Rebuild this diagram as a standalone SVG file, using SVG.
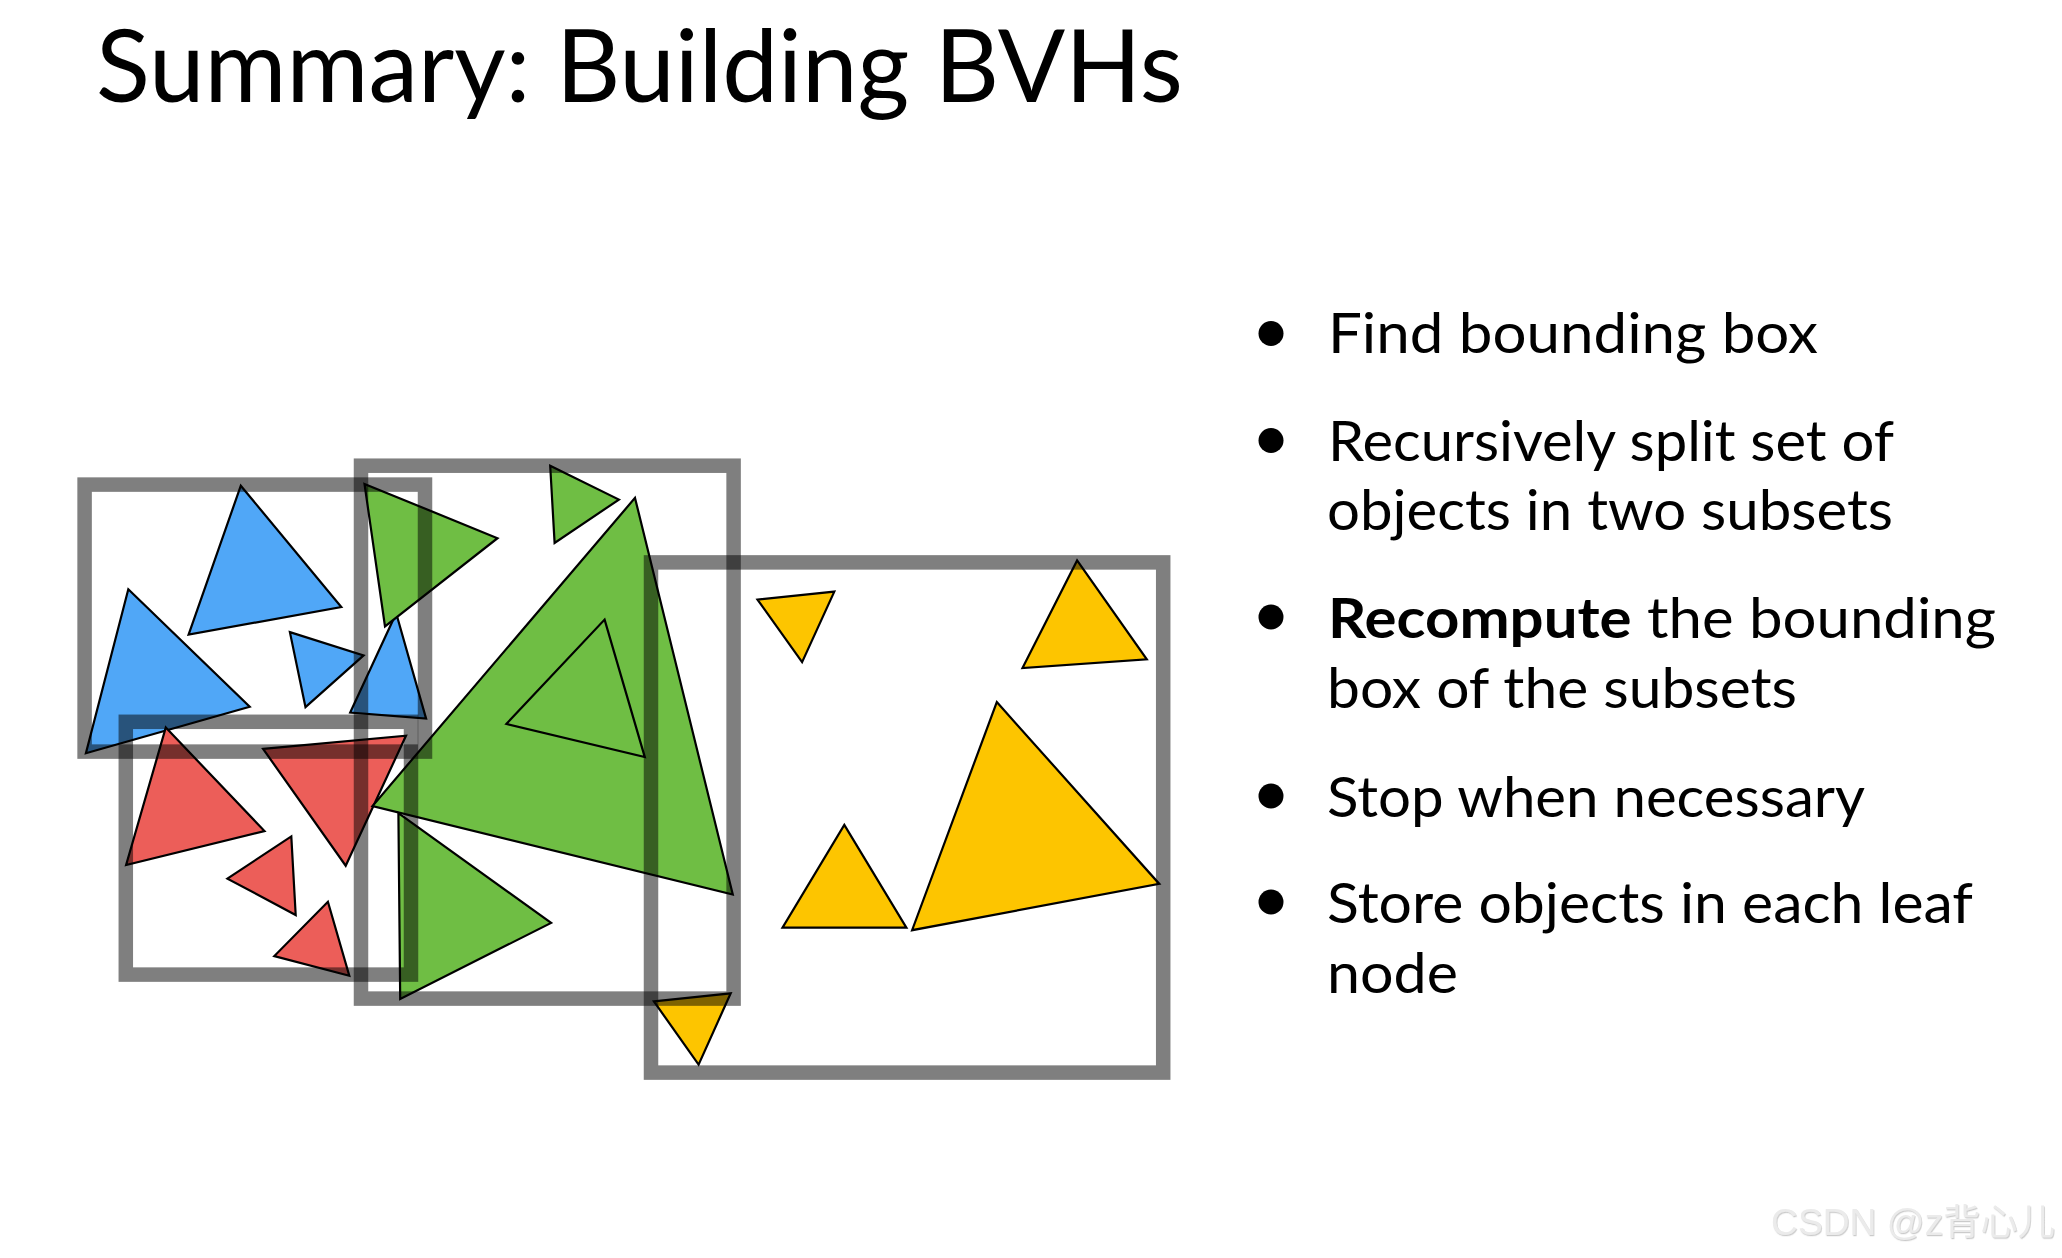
<svg xmlns="http://www.w3.org/2000/svg" width="2062" height="1258" viewBox="0 0 2062 1258">
  <defs>
    <style>
      .tri { stroke: #000; stroke-width: 2.2; stroke-linejoin: miter; }
      .blue { fill: #50a7f7; }
      .green { fill: #6fbe44; }
      .red { fill: #ec5e59; }
      .yellow { fill: #fdc500; }
      .box { fill: none; stroke: #000; stroke-opacity: 0.5; stroke-width: 14.5; stroke-linejoin: miter; }
      .title { font-family: Lato, "Noto Sans", sans-serif; font-size: 100px; font-weight: 400; fill: #000; }
      .item { font-family: Lato, "Noto Sans", sans-serif; font-size: 56px; font-weight: 400; fill: #000; }
      .bold { font-weight: bold; }
      .dot { fill: #000; }
      .wm { font-family: "Liberation Sans", "Noto Sans CJK SC", sans-serif; font-size: 36px; fill: #ebebeb; }
    </style>
    <filter id="emboss" x="-5%" y="-20%" width="110%" height="150%">
      <feDropShadow dx="0.8" dy="1.2" stdDeviation="0.7" flood-color="#a8a8a8" flood-opacity="0.6"/>
    </filter>
  </defs>
  <rect width="2062" height="1258" fill="#fff"/>

  <text id="title" class="title" x="96" y="102" textLength="1087" lengthAdjust="spacingAndGlyphs">Summary: Building BVHs</text>

  <g id="triangles">
    <g id="blue-triangles">
      <polygon id="b1" class="tri blue" points="240.8,485.7 341.3,607.1 188.6,634.6"/>
      <polygon id="b2" class="tri blue" points="128.3,589.3 249.7,706.8 85.9,753.2"/>
      <polygon id="b3" class="tri blue" points="289.9,632.1 363.6,655.4 305.5,707.1"/>
      <polygon id="b4" class="tri blue" points="396.2,613.2 426.1,718.6 350.2,712.5"/>
    </g>
    <g id="red-triangles">
      <polygon id="r1" class="tri red" points="165.8,727.5 264.5,831.1 126.1,865"/>
      <polygon id="r2" class="tri red" points="263.1,748.9 406,735.7 345.7,865.7"/>
      <polygon id="r3" class="tri red" points="291.3,836.4 295.7,915 227.4,878.6"/>
      <polygon id="r4" class="tri red" points="327.9,901.8 349.3,975.7 274.3,956.1"/>
    </g>
    <g id="green-triangles">
      <polygon id="g1" class="tri green" points="364.5,483.9 497.5,538.2 385,626.4"/>
      <polygon id="g2" class="tri green" points="550.2,465.7 618.9,499.6 554.6,542.9"/>
      <polygon id="g3" class="tri green" points="635,497.9 732.8,894.6 372.5,806"/>
      <polygon id="g4" class="tri green" points="604.6,619.6 644.8,757.1 506.4,723.9"/>
      <polygon id="g5" class="tri green" points="398.4,813.2 551.1,922.9 400.2,998.9"/>
    </g>
    <g id="yellow-triangles">
      <polygon id="y1" class="tri yellow" points="757.5,599.6 834.3,591.6 802.1,662.1"/>
      <polygon id="y2" class="tri yellow" points="1077.1,560.4 1146.8,659.3 1022.5,668.1"/>
      <polygon id="y3" class="tri yellow" points="996.8,702.1 1159.3,883.9 912.1,930.2"/>
      <polygon id="y4" class="tri yellow" points="844.3,824.9 906.4,927.7 782.5,927.7"/>
      <polygon id="y5" class="tri yellow" points="653.9,1001.4 730.7,993.3 698.6,1064.6"/>
    </g>
  </g>

  <g id="bounding-boxes">
    <rect id="box-blue" class="box" x="84.6" y="484.6" width="340.4" height="267"/>
    <rect id="box-red" class="box" x="125.8" y="721.8" width="285.2" height="252.8"/>
    <rect id="box-green" class="box" x="361" y="465.7" width="372.6" height="532.9"/>
    <rect id="box-yellow" class="box" x="651" y="562.4" width="512.2" height="510.2"/>
  </g>

  <g id="bullets">
    <g id="bullet-1">
      <circle class="dot" cx="1271" cy="333.5" r="12.5"/>
      <text class="item" x="1328" y="353.3" textLength="490" lengthAdjust="spacingAndGlyphs">Find bounding box</text>
    </g>
    <g id="bullet-2">
      <circle class="dot" cx="1271" cy="440.5" r="12.5"/>
      <text class="item" x="1328" y="460.7" textLength="566" lengthAdjust="spacingAndGlyphs">Recursively split set of</text>
      <text class="item" x="1327" y="530" textLength="566" lengthAdjust="spacingAndGlyphs">objects in two subsets</text>
    </g>
    <g id="bullet-3">
      <circle class="dot" cx="1271" cy="617" r="12.5"/>
      <text class="item" x="1328" y="637.5" textLength="668" lengthAdjust="spacingAndGlyphs"><tspan class="bold">Recompute</tspan> the bounding</text>
      <text class="item" x="1327" y="708" textLength="470" lengthAdjust="spacingAndGlyphs">box of the subsets</text>
    </g>
    <g id="bullet-4">
      <circle class="dot" cx="1271" cy="796" r="12.5"/>
      <text class="item" x="1327" y="816.7" textLength="538" lengthAdjust="spacingAndGlyphs">Stop when necessary</text>
    </g>
    <g id="bullet-5">
      <circle class="dot" cx="1271" cy="902" r="12.5"/>
      <text class="item" x="1327" y="923.3" textLength="646" lengthAdjust="spacingAndGlyphs">Store objects in each leaf</text>
      <text class="item" x="1327" y="993.3" textLength="131" lengthAdjust="spacingAndGlyphs">node</text>
    </g>
  </g>

  <text id="watermark" class="wm" x="1771" y="1235" textLength="284" lengthAdjust="spacingAndGlyphs" filter="url(#emboss)">CSDN @z背心儿</text>
</svg>
